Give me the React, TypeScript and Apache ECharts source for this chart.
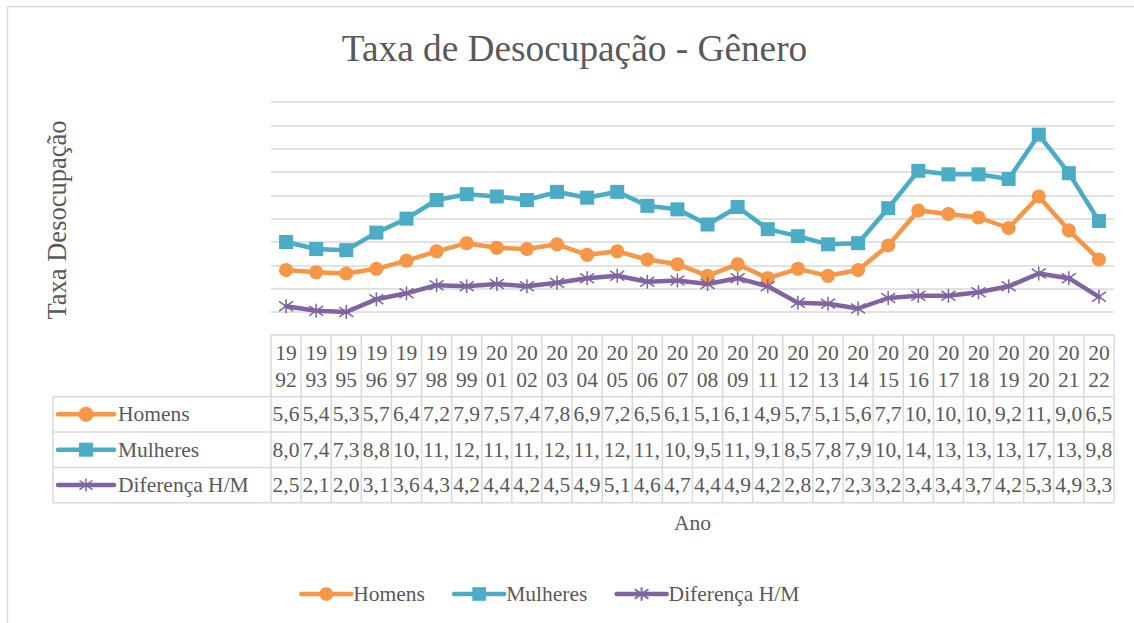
import React, { useEffect, useRef } from 'react';
import * as echarts from 'echarts';

const years = ['1992','1993','1995','1996','1997','1998','1999','2001','2002','2003','2004','2005','2006','2007','2008','2009','2011','2012','2013','2014','2015','2016','2017','2018','2019','2020','2021','2022'];
const homens = [5.6,5.4,5.3,5.7,6.4,7.2,7.9,7.5,7.4,7.8,6.9,7.2,6.5,6.1,5.1,6.1,4.9,5.7,5.1,5.6,7.7,10.7,10.4,10.1,9.2,11.9,9.0,6.5];
const mulheres = [8.0,7.4,7.3,8.8,10.0,11.6,12.1,11.9,11.6,12.3,11.8,12.3,11.1,10.8,9.5,11.0,9.1,8.5,7.8,7.9,10.9,14.1,13.8,13.8,13.4,17.2,13.9,9.8];
const diferenca = [2.5,2.1,2.0,3.1,3.6,4.3,4.2,4.4,4.2,4.5,4.9,5.1,4.6,4.7,4.4,4.9,4.2,2.8,2.7,2.3,3.2,3.4,3.4,3.7,4.2,5.3,4.9,3.3];
const seriesNames = ['Homens', 'Mulheres', 'Diferença H/M'];
const yTicks = { min: 2, max: 20, interval: 2 };

const C_H = '#F79646';
const C_M = '#4BACC6';
const C_D = '#8064A2';
const TXT = '#595959';
const LINE = '#d9d9d9';
const FONT = '"Liberation Serif", "Times New Roman", serif';
const FS = 21.5;
const STAR = 'path://M5,0L5,10M0,1.5L10,8.5M10,1.5L0,8.5';

export default function App() {
  const ref = useRef<HTMLDivElement>(null);
  useEffect(() => {
    const chart = echarts.init(ref.current!, null, { renderer: 'svg' });
    const mk = (name: string, data: number[], color: string, symbol: string, extra: any = {}) => ({
      name, type: 'line', data, symbol, symbolSize: 14,
      lineStyle: { color, width: 4.5, cap: 'round', join: 'round' },
      itemStyle: { color, ...extra }, emphasis: { disabled: true },
    });
    chart.setOption({
      animation: false,
      grid: { left: 271, width: 843, top: 102, height: 210 },
      xAxis: {
        type: 'category', data: years, boundaryGap: true,
        axisLine: { show: false }, axisTick: { show: false },
        axisLabel: {
          margin: 28, fontSize: FS, fontFamily: FONT, color: TXT, lineHeight: 26.7, interval: 0,
          formatter: (v: string) => v.slice(0, 2) + '\n' + v.slice(2),
        },
      },
      yAxis: {
        type: 'value', ...yTicks,
        axisLabel: { show: false }, axisLine: { show: false }, axisTick: { show: false },
        splitLine: { lineStyle: { color: LINE, width: 1.5 } },
      },
      legend: {
        left: 294, top: 578, itemWidth: 50, itemHeight: 17, itemGap: 27,
        lineStyle: { width: 4.5, cap: 'round' },
        textStyle: { fontSize: FS, fontFamily: FONT, color: TXT, padding: [0, 0, 0, -3] },
        data: seriesNames,
      },
      series: [
        mk(seriesNames[0], homens, C_H, 'circle'),
        mk(seriesNames[1], mulheres, C_M, 'rect'),
        mk(seriesNames[2], diferenca, C_D, STAR, { borderColor: C_D, borderWidth: 1.5 }),
      ],
    });

    const px = (i: number) => chart.convertToPixel({ xAxisIndex: 0 }, i) as number;
    const cw = px(1) - px(0);
    const x0 = px(0) - cw / 2;
    const xR = x0 + cw * years.length;
    const rows = [396.7, 432, 467.4, 502.7];
    const headTop = 335;
    const tLeft = 53;
    const g: any[] = [];
    const ln = (x1: number, y1: number, x2: number, y2: number) =>
      g.push({ type: 'line', shape: { x1, y1, x2, y2 }, style: { stroke: LINE, lineWidth: 1.5 }, silent: true });

    g.push({ type: 'rect', shape: { x: 7.5, y: 6.5, width: 1300, height: 900 }, style: { fill: 'none', stroke: LINE, lineWidth: 1.5 } });
    g.push({ type: 'text', x: 574.5, y: 48, style: { text: 'Taxa de Desocupação - Gênero', font: `37.3px ${FONT}`, fill: TXT, textAlign: 'center', textVerticalAlign: 'middle' } });
    g.push({ type: 'text', x: 57, y: 220, rotation: Math.PI / 2, style: { text: 'Taxa Desocupação', font: `26.5px ${FONT}`, fill: TXT, textAlign: 'center', textVerticalAlign: 'middle' } });
    g.push({ type: 'text', x: (x0 + xR) / 2, y: 523, style: { text: 'Ano', font: `${FS}px ${FONT}`, fill: TXT, textAlign: 'center', textVerticalAlign: 'middle' } });

    for (let i = 0; i <= years.length; i++) ln(x0 + i * cw, headTop, x0 + i * cw, rows[3]);
    ln(x0, headTop, xR, headTop);
    rows.forEach((y) => ln(tLeft, y, xR, y));
    ln(tLeft, rows[0], tLeft, rows[3]);

    const datasets = [homens, mulheres, diferenca];
    const colors = [C_H, C_M, C_D];
    datasets.forEach((arr, r) => {
      const yc = (rows[r] + rows[r + 1]) / 2;
      arr.forEach((v, i) => {
        const s = v.toFixed(1).replace('.', ',').slice(0, 3);
        g.push({ type: 'text', x: x0 + i * cw + 1.5, y: yc, style: { text: s, font: `${FS}px ${FONT}`, fill: TXT, textAlign: 'left', textVerticalAlign: 'middle' } });
      });
      const c = colors[r];
      g.push({ type: 'line', shape: { x1: 58, y1: yc, x2: 114, y2: yc }, style: { stroke: c, lineWidth: 4.5, lineCap: 'round' } });
      if (r === 0) g.push({ type: 'circle', shape: { cx: 86, cy: yc, r: 7.5 }, style: { fill: c } });
      if (r === 1) g.push({ type: 'rect', shape: { x: 79, y: yc - 7, width: 14, height: 14 }, style: { fill: c } });
      if (r === 2) {
        const s = 6.5;
        g.push({ type: 'line', shape: { x1: 86, y1: yc - s, x2: 86, y2: yc + s }, style: { stroke: c, lineWidth: 1.5 } });
        g.push({ type: 'line', shape: { x1: 86 - s, y1: yc - s * 0.7, x2: 86 + s, y2: yc + s * 0.7 }, style: { stroke: c, lineWidth: 1.5 } });
        g.push({ type: 'line', shape: { x1: 86 + s, y1: yc - s * 0.7, x2: 86 - s, y2: yc + s * 0.7 }, style: { stroke: c, lineWidth: 1.5 } });
      }
      g.push({ type: 'text', x: 118, y: yc, style: { text: seriesNames[r], font: `${FS}px ${FONT}`, fill: TXT, textAlign: 'left', textVerticalAlign: 'middle' } });
    });

    chart.setOption({ graphic: g });
    return () => chart.dispose();
  }, []);
  return <div ref={ref} style={{ position: 'fixed', left: 0, top: 0, width: 1134, height: 623, background: '#fff' }} />;
}
